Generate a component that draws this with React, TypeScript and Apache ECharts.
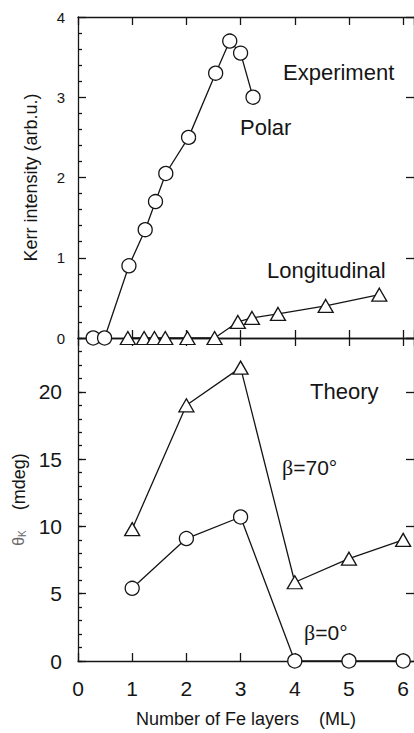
import React, { useEffect, useRef } from "react";
import * as echarts from "echarts";

// Experiment (top panel)
const polarX = [0.28, 0.49, 0.94, 1.24, 1.43, 1.62, 2.04, 2.54, 2.8, 3.0, 3.23];
const polarY = [0, 0, 0.9, 1.35, 1.7, 2.05, 2.5, 3.3, 3.7, 3.55, 3.0];
const longX = [0.92, 1.22, 1.41, 1.61, 2.02, 2.52, 2.95, 3.21, 3.69, 4.57, 5.56];
const longY = [0, 0, 0, 0, 0, 0, 0.2, 0.25, 0.3, 0.4, 0.54];

// Theory (bottom panel)
const theoryX = [1, 2, 3, 4, 5, 6];
const beta70 = [9.8, 19.0, 21.8, 5.85, 7.6, 9.0];
const beta0 = [5.4, 9.1, 10.7, 0, 0, 0];

const pairs = (xs: number[], ys: number[]) => xs.map((x, i) => [x, ys[i]]);

const INK = "#151515";
const FONT = "Liberation Sans";

export default function App() {
  const ref = useRef<HTMLDivElement>(null);
  useEffect(() => {
    if (!ref.current) return;
    const chart = echarts.init(ref.current, undefined, { renderer: "svg" });
    const line = { color: INK, width: 1.3 };
    const xBase = (grid: number, pos: string, extra: any = {}) => ({
      type: "value",
      gridIndex: grid,
      position: pos,
      min: 0,
      max: 6.2,
      interval: 1,
      axisLine: { show: true, onZero: false, lineStyle: line },
      axisTick: { show: true, inside: true, length: 8, lineStyle: line },
      axisLabel: { show: false },
      splitLine: { show: false },
      ...extra,
    });
    const yBase = (grid: number, pos: string, min: number, max: number, interval: number, extra: any = {}) => ({
      type: "value",
      gridIndex: grid,
      position: pos,
      min,
      max,
      interval,
      axisLine: { show: true, onZero: false, lineStyle: line },
      axisTick: { show: true, inside: true, length: 8, lineStyle: line },
      axisLabel: { show: false },
      splitLine: { show: false },
      ...extra,
    });
    const sym = { color: "#fff", borderColor: INK, borderWidth: 1.3 };
    const series = (name: string, data: number[][], symbol: string, size: any, xi: number, yi: number) => ({
      name,
      type: "line",
      xAxisIndex: xi,
      yAxisIndex: yi,
      data,
      symbol,
      symbolSize: size,
      showAllSymbol: true,
      lineStyle: { color: INK, width: 1.3 },
      itemStyle: sym,
      z: 5,
    });
    const txt = (text: string, x: number, y: number, size = 22, rich?: any) => ({
      type: "text",
      x,
      y,
      z: 10,
      style: {
        text,
        fontSize: size,
        fontFamily: FONT,
        fill: INK,
        verticalAlign: "middle",
        align: "left",
        ...(rich ? { rich } : {}),
      },
    });
    const betaRich = { b: { fontFamily: "Liberation Serif", fontSize: 22, fill: INK } };
    chart.setOption({
      animation: false,
      backgroundColor: "#fff",
      textStyle: { fontFamily: FONT, color: INK },
      grid: [
        { left: 78, right: -2, top: 17, height: 321 },
        { left: 78, right: -2, top: 338, height: 323 },
      ],
      xAxis: [
        xBase(0, "bottom"),
        xBase(0, "top"),
        xBase(1, "bottom", {
          axisLabel: { show: true, fontSize: 21, color: INK, margin: 17, showMaxLabel: false, fontFamily: FONT },
          name: "Number of Fe layers    (ML)",
          nameLocation: "middle",
          nameGap: 49,
          nameTextStyle: { fontSize: 18, color: INK, fontFamily: FONT },
        }),
        xBase(1, "top"),
      ],
      yAxis: [
        yBase(0, "left", 0, 4, 1, {
          minorTick: { show: true, splitNumber: 5, length: 4, lineStyle: line },
          axisLabel: { show: true, fontSize: 15, color: INK, margin: 13, fontFamily: FONT },
          name: "Kerr intensity (arb.u.)",
          nameLocation: "middle",
          nameRotate: 90,
          nameGap: 38,
          nameTextStyle: { fontSize: 18, color: INK, fontFamily: FONT },
        }),
        yBase(0, "right", 0, 4, 1),
        yBase(1, "left", 0, 24, 5, {
          axisLabel: { show: true, fontSize: 21, color: INK, margin: 16, showMaxLabel: false, fontFamily: FONT },
          name: "{t|θ}{k|K}    (mdeg)",
          nameLocation: "middle",
          nameRotate: 90,
          nameGap: 46,
          nameTextStyle: {
            fontSize: 18,
            color: INK,
            fontFamily: FONT,
            rich: {
              t: { fontSize: 16, color: "#666", fontFamily: FONT },
              k: { fontSize: 10, color: "#666", fontFamily: FONT, padding: [8, 0, 0, 0] },
            },
          },
        }),
        yBase(1, "left", 0, 24, 1, {
          axisLine: { show: false },
          axisTick: { show: true, inside: true, length: 4, lineStyle: line },
        }),
        yBase(1, "right", 0, 24, 5),
      ],
      series: [
        series("Polar", pairs(polarX, polarY), "circle", 14, 0, 0),
        series("Longitudinal", pairs(longX, longY), "triangle", [15, 13], 0, 0),
        series("β=70°", pairs(theoryX, beta70), "triangle", [15, 13], 2, 2),
        series("β=0°", pairs(theoryX, beta0), "circle", 14, 2, 2),
      ],
      graphic: [
        txt("Experiment", 283, 72),
        txt("Polar", 240, 127),
        txt("Longitudinal", 267, 270),
        txt("Theory", 310, 391),
        txt("{b|β}=70°", 282, 467, 21, betaRich),
        txt("{b|β}=0°", 304, 632, 21, betaRich),
      ],
    });
    return () => chart.dispose();
  }, []);
  return (
    <div
      ref={ref}
      style={{ position: "fixed", left: 0, top: 0, width: 414, height: 733, background: "#fff" }}
    />
  );
}
